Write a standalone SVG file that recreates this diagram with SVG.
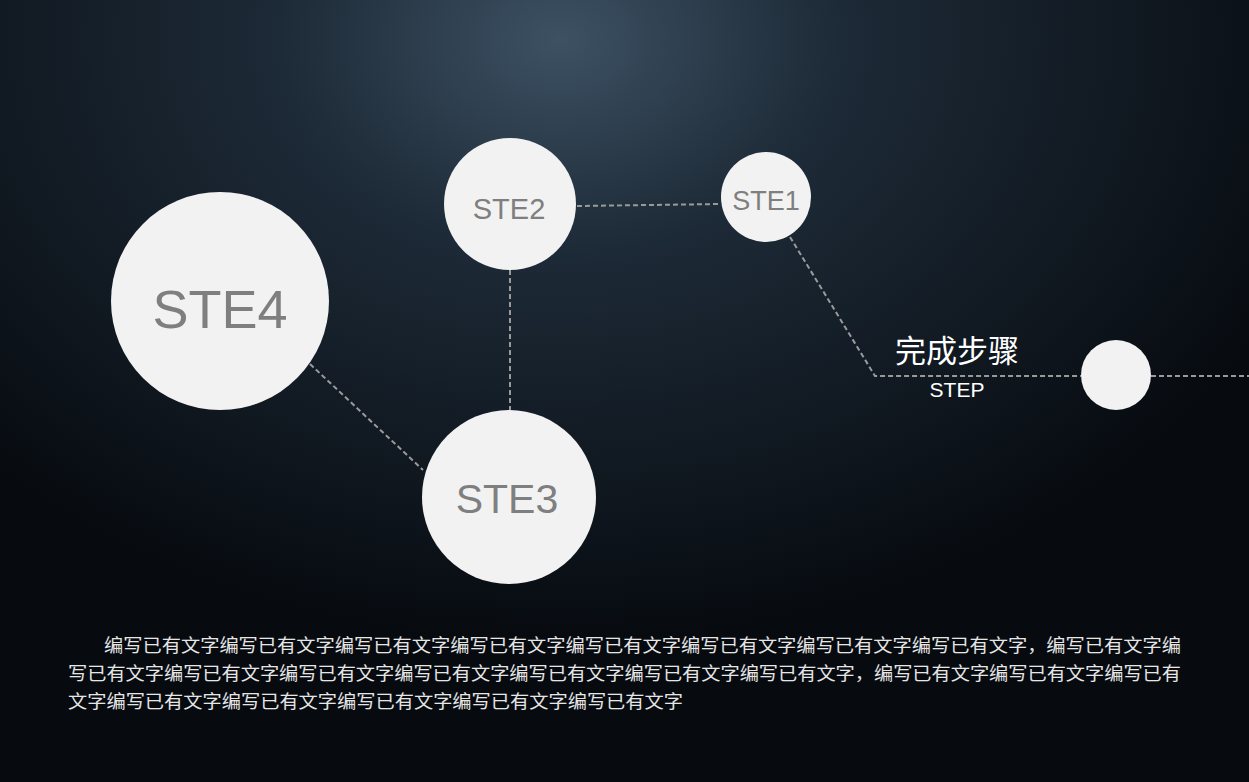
<svg xmlns="http://www.w3.org/2000/svg" width="1249" height="782" viewBox="0 0 1249 782">
<defs>
<radialGradient id="bg" cx="560" cy="40" r="800" gradientUnits="userSpaceOnUse" gradientTransform="translate(560 40) scale(1 0.75) translate(-560 -40)">
<stop offset="0" stop-color="#3d5163"/>
<stop offset="0.35" stop-color="#1d2a37"/>
<stop offset="1" stop-color="#070b10"/>
</radialGradient>
</defs>
<style>
.n{fill:#f2f2f2}
.t{font-family:"Liberation Sans",Arial,sans-serif;fill:#7f7f7f;text-anchor:middle}
.c{stroke:#9a9a9a;stroke-width:2;stroke-dasharray:5 3;fill:none}
.p{font-family:"Liberation Sans","Noto Sans CJK SC",sans-serif;font-size:18px;fill:#e6e6e6}
</style>
<rect width="1249" height="782" fill="url(#bg)"/>
<g id="connectors">
<line class="c" x1="577" y1="206" x2="721" y2="204"/>
<line class="c" x1="510" y1="270" x2="510" y2="410"/>
<line class="c" x1="310" y1="364" x2="423" y2="470"/>
<polyline class="c" points="790,237 875,376 1081,376"/>
<line class="c" x1="1151" y1="376" x2="1249" y2="376"/>
</g>
<g id="ste4"><circle class="n" cx="220" cy="301" r="109"/><text class="t" x="220" y="328" font-size="54">STE4</text></g>
<g id="ste2"><circle class="n" cx="510" cy="204" r="66"/><text class="t" x="509" y="219" font-size="29">STE2</text></g>
<g id="ste1"><circle class="n" cx="766" cy="197" r="45"/><text class="t" x="766" y="210" font-size="27">STE1</text></g>
<g id="ste3"><circle class="n" cx="509" cy="497" r="87"/><text class="t" x="507" y="513" font-size="41">STE3</text></g>
<g id="end"><circle class="n" cx="1116" cy="375" r="35"/></g>
<g id="label">
<text x="957" y="362" font-size="31" fill="#fff" text-anchor="middle" font-family="'Noto Sans CJK SC',sans-serif">完成步骤</text>
<text x="957" y="397" font-size="21" fill="#fff" text-anchor="middle" font-family="'Liberation Sans',sans-serif">STEP</text>
</g>
<g id="para">
<text class="p" x="104" y="652" textLength="1077" lengthAdjust="spacingAndGlyphs">编写已有文字编写已有文字编写已有文字编写已有文字编写已有文字编写已有文字编写已有文字编写已有文字，编写已有文字编</text>
<text class="p" x="68" y="680" textLength="1113" lengthAdjust="spacingAndGlyphs">写已有文字编写已有文字编写已有文字编写已有文字编写已有文字编写已有文字编写已有文字，编写已有文字编写已有文字编写已有</text>
<text class="p" x="68" y="708" textLength="615" lengthAdjust="spacingAndGlyphs">文字编写已有文字编写已有文字编写已有文字编写已有文字编写已有文字</text>
</g>
</svg>
